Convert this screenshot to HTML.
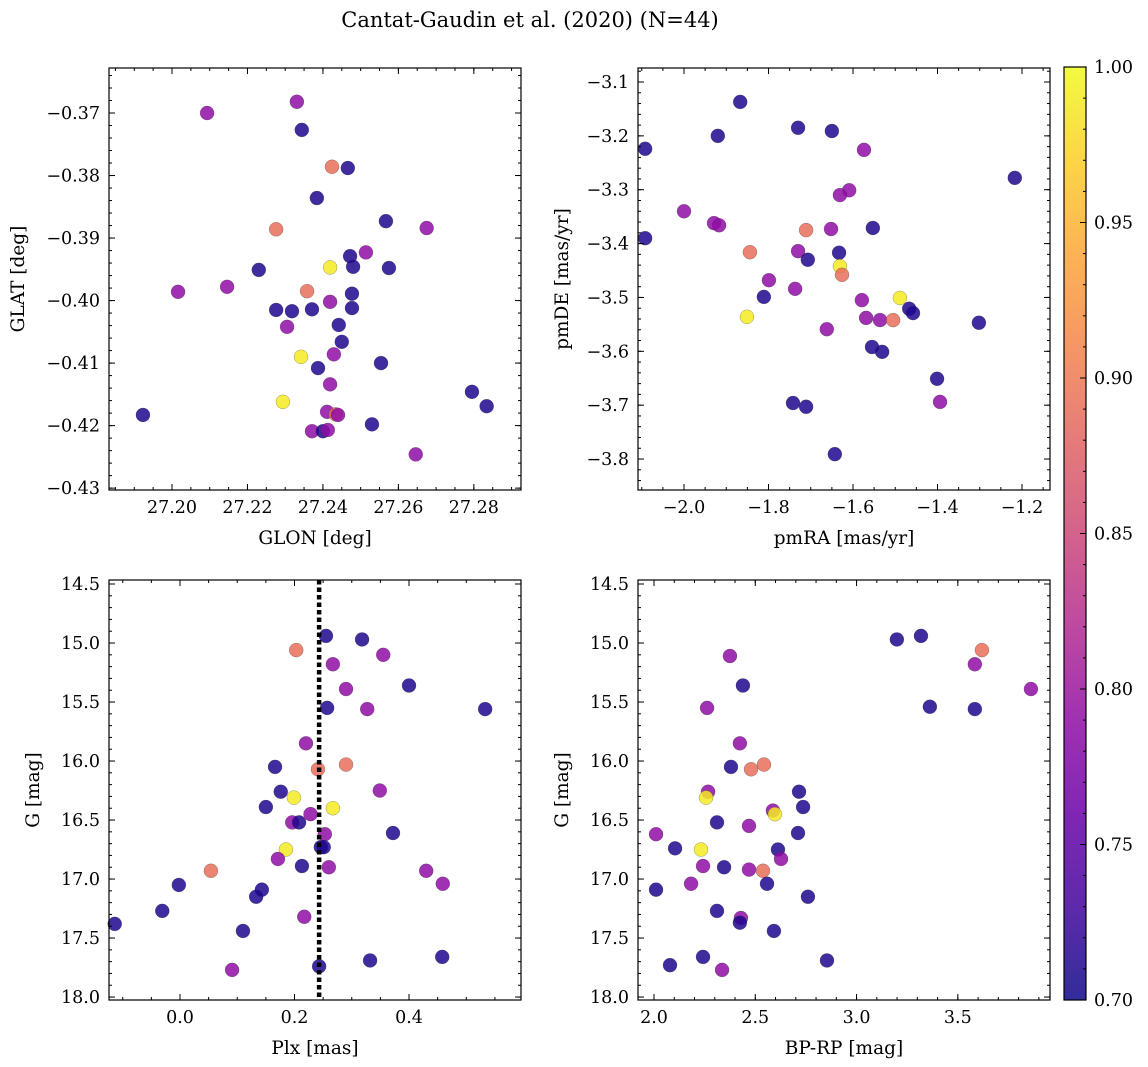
<!DOCTYPE html>
<html><head><meta charset="utf-8"><style>
html,body{margin:0;padding:0;background:#fff;}
svg{display:block;font-family:"DejaVu Serif","Liberation Serif",serif;}
</style></head><body>
<svg id="chart" width="1148" height="1067" viewBox="0 0 1148 1067" xmlns="http://www.w3.org/2000/svg">
<defs>
<linearGradient id="plasma" x1="0" y1="1" x2="0" y2="0">
<stop offset="0" stop-color="#0d0887"/><stop offset="0.1" stop-color="#41049d"/><stop offset="0.2" stop-color="#6a00a8"/><stop offset="0.3" stop-color="#8f0da4"/><stop offset="0.4" stop-color="#b12a90"/><stop offset="0.5" stop-color="#cc4778"/><stop offset="0.6" stop-color="#e16462"/><stop offset="0.7" stop-color="#f2844b"/><stop offset="0.8" stop-color="#fca636"/><stop offset="0.9" stop-color="#fcce25"/><stop offset="1" stop-color="#f0f921"/>
</linearGradient>
</defs>
<text x="530" y="27" text-anchor="middle" font-size="21">Cantat-Gaudin et al. (2020) (N=44)</text>
</svg>
<script>
// Panel 1: GLON vs GLAT
const glon = [27.2093,27.2331,27.2344,27.2424,27.2466,27.2384,27.2276,27.2567,27.2675,27.2514,27.2472,27.2480,27.2419,27.2230,27.2575,27.2016,27.2146,27.2358,27.2477,27.2419,27.2276,27.2318,27.2371,27.2477,27.2305,27.2442,27.2450,27.2342,27.2429,27.2387,27.2554,27.2419,27.2795,27.2834,27.2294,27.1923,27.2411,27.2434,27.2440,27.2530,27.2371,27.2400,27.2413,27.2646];
const glat = [-0.3700,-0.3682,-0.3727,-0.3786,-0.3788,-0.3836,-0.3886,-0.3873,-0.3884,-0.3923,-0.3929,-0.3946,-0.3947,-0.3951,-0.3948,-0.3986,-0.3978,-0.3985,-0.3989,-0.4002,-0.4015,-0.4017,-0.4014,-0.4012,-0.4042,-0.4039,-0.4066,-0.4090,-0.4086,-0.4108,-0.4100,-0.4134,-0.4146,-0.4169,-0.4162,-0.4183,-0.4178,-0.4182,-0.4183,-0.4198,-0.4209,-0.4209,-0.4207,-0.4246];
const prob1 = [0.79,0.79,0.71,0.89,0.71,0.71,0.89,0.71,0.79,0.79,0.71,0.71,0.99,0.71,0.71,0.79,0.79,0.89,0.71,0.79,0.71,0.71,0.71,0.71,0.79,0.71,0.71,0.99,0.79,0.71,0.71,0.79,0.71,0.71,0.99,0.71,0.79,0.89,0.79,0.71,0.79,0.71,0.79,0.79];
// Panel 2: pmRA vs pmDE
const pmra = [-1.867,-2.092,-1.920,-1.730,-1.650,-1.574,-1.217,-1.609,-1.631,-2.000,-1.929,-1.917,-2.092,-1.652,-1.553,-1.711,-1.844,-1.730,-1.633,-1.707,-1.631,-1.626,-1.799,-1.737,-1.811,-1.489,-1.579,-1.851,-1.569,-1.536,-1.505,-1.467,-1.458,-1.302,-1.662,-1.555,-1.531,-1.401,-1.394,-1.742,-1.711,-1.643];
const pmde = [-3.137,-3.224,-3.200,-3.185,-3.191,-3.226,-3.278,-3.301,-3.310,-3.340,-3.362,-3.366,-3.390,-3.373,-3.371,-3.375,-3.416,-3.414,-3.417,-3.430,-3.442,-3.458,-3.468,-3.484,-3.499,-3.501,-3.505,-3.536,-3.538,-3.542,-3.542,-3.521,-3.529,-3.547,-3.559,-3.592,-3.601,-3.651,-3.694,-3.696,-3.703,-3.791];
const prob2 = [0.71,0.71,0.71,0.71,0.71,0.79,0.71,0.79,0.79,0.79,0.79,0.79,0.71,0.79,0.71,0.89,0.89,0.79,0.71,0.71,0.99,0.89,0.79,0.79,0.71,0.99,0.79,0.99,0.79,0.79,0.89,0.71,0.71,0.71,0.79,0.71,0.71,0.71,0.79,0.71,0.71,0.71];
// Panel 3: Plx vs G
const plx = [0.255,0.318,0.203,0.355,0.267,0.400,0.290,0.533,0.257,0.327,0.220,0.290,0.241,0.166,0.349,0.176,0.199,0.150,0.267,0.228,0.196,0.208,0.253,0.372,0.185,0.246,0.251,0.171,0.213,0.260,0.054,0.430,0.459,-0.002,0.143,0.133,-0.031,0.217,-0.114,0.110,0.332,0.458,0.243,0.091];
const gmag3 = [14.94,14.97,15.06,15.10,15.18,15.36,15.39,15.56,15.55,15.56,15.85,16.03,16.07,16.05,16.25,16.26,16.31,16.39,16.40,16.45,16.52,16.52,16.62,16.61,16.75,16.73,16.73,16.83,16.89,16.90,16.93,16.93,17.04,17.05,17.09,17.15,17.27,17.32,17.38,17.44,17.69,17.66,17.74,17.77];
const prob3 = [0.71,0.71,0.89,0.79,0.79,0.71,0.79,0.71,0.71,0.79,0.79,0.89,0.89,0.71,0.79,0.71,0.99,0.71,0.99,0.79,0.79,0.71,0.79,0.71,0.99,0.71,0.71,0.79,0.71,0.79,0.89,0.79,0.79,0.71,0.71,0.71,0.71,0.79,0.71,0.71,0.71,0.71,0.71,0.79];
const plxLine = [0.243];
// Panel 4: BP-RP vs G
const bprp = [3.199,3.318,3.619,2.375,3.584,2.439,3.861,3.362,3.584,2.262,2.424,2.543,2.479,2.380,2.716,2.267,2.257,2.736,2.587,2.597,2.311,2.469,2.711,2.010,2.232,2.104,2.612,2.627,2.242,2.346,2.469,2.538,2.183,2.558,2.010,2.760,2.311,2.429,2.424,2.592,2.854,2.242,2.079,2.336];
const gmag4 = [14.97,14.94,15.06,15.11,15.18,15.36,15.39,15.54,15.56,15.55,15.85,16.03,16.07,16.05,16.26,16.26,16.31,16.39,16.42,16.45,16.52,16.55,16.61,16.62,16.75,16.74,16.75,16.83,16.89,16.90,16.92,16.93,17.04,17.04,17.09,17.15,17.27,17.33,17.37,17.44,17.69,17.66,17.73,17.77];
const prob4 = [0.71,0.71,0.89,0.79,0.79,0.71,0.79,0.71,0.71,0.79,0.79,0.89,0.89,0.71,0.71,0.79,0.99,0.71,0.79,0.99,0.71,0.79,0.71,0.79,0.99,0.71,0.71,0.79,0.79,0.71,0.79,0.89,0.79,0.71,0.71,0.71,0.71,0.79,0.71,0.71,0.71,0.71,0.71,0.79];
const cbarTicks = [0.70,0.75,0.80,0.85,0.90,0.95,1.00];

const NS="http://www.w3.org/2000/svg";
const svg=document.getElementById('chart');
function mk(tag,attrs,parent){const e=document.createElementNS(NS,tag);for(const k in attrs)e.setAttribute(k,attrs[k]);(parent||svg).appendChild(e);return e;}
const stops=['#0d0887','#41049d','#6a00a8','#8f0da4','#b12a90','#cc4778','#e16462','#f2844b','#fca636','#fcce25','#f0f921'];
function hex(h){return [1,3,5].map(i=>parseInt(h.substr(i,2),16));}
function plasma(v){let t=(v-0.7)/0.3;t=Math.max(0,Math.min(1,t));const p=t*10;const i=Math.min(9,Math.floor(p));const f=p-i;const a=hex(stops[i]),b=hex(stops[i+1]);return 'rgb('+a.map((c,k)=>Math.round(c+(b[k]-c)*f)).join(',')+')';}
function ticks(lo,hi,step){const r=[];const s=Math.ceil(lo/step-1e-9);for(let k=s;k*step<=hi+1e-9;k++)r.push(+(k*step).toFixed(6));return r;}

function panel(o){
  const g=mk('g',{});
  
  
  const X=v=>o.x0+(v-o.xmin)/(o.xmax-o.xmin)*(o.x1-o.x0);
  const Y=o.invert? v=>o.y0+(v-o.ymin)/(o.ymax-o.ymin)*(o.y1-o.y0) : v=>o.y1-(v-o.ymin)/(o.ymax-o.ymin)*(o.y1-o.y0);
  const xs=o.xs,ys=o.ys,ps=o.ps;
  for(let i=0;i<xs.length;i++){
    const c=mk('circle',{cx:X(xs[i]),cy:Y(ys[i]),r:7,fill:plasma(ps[i]),'fill-opacity':0.85,stroke:'#333','stroke-width':0.4,'stroke-opacity':0.6},g);
    
    
  }
  if(o.vline!==undefined){
    const l=mk('line',{x1:X(o.vline),x2:X(o.vline),y1:o.y0,y2:o.y1,stroke:'#000','stroke-width':4.5,'stroke-dasharray':'4.5 3'},g);
    
    
  }
  const fr=mk('rect',{x:o.x0,y:o.y0,width:o.x1-o.x0,height:o.y1-o.y0,fill:'none',stroke:'#000','stroke-width':1.2},g);
  
  
  const xa=mk('g',{},g);
  
  
  ticks(o.xmin,o.xmax,o.xminor).forEach(v=>{const x=X(v);mk('line',{x1:x,x2:x,y1:o.y1,y2:o.y1-3,stroke:'#000'},xa);mk('line',{x1:x,x2:x,y1:o.y0,y2:o.y0+3,stroke:'#000'},xa);});
  ticks(o.xmin,o.xmax,o.xmajor).forEach(v=>{const x=X(v);mk('line',{x1:x,x2:x,y1:o.y1,y2:o.y1-6,stroke:'#000'},xa);mk('line',{x1:x,x2:x,y1:o.y0,y2:o.y0+6,stroke:'#000'},xa);
    const t=mk('text',{x:x,y:o.y1+23,'text-anchor':'middle','font-size':17.5},xa);t.textContent=v.toFixed(o.xdec).replace('-','\u2212');
    
    });
  const ya=mk('g',{},g);
  
  
  ticks(o.ymin,o.ymax,o.yminor).forEach(v=>{const y=Y(v);mk('line',{x1:o.x0,x2:o.x0+3,y1:y,y2:y,stroke:'#000'},ya);mk('line',{x1:o.x1,x2:o.x1-3,y1:y,y2:y,stroke:'#000'},ya);});
  ticks(o.ymin,o.ymax,o.ymajor).forEach(v=>{const y=Y(v);mk('line',{x1:o.x0,x2:o.x0+6,y1:y,y2:y,stroke:'#000'},ya);mk('line',{x1:o.x1,x2:o.x1-6,y1:y,y2:y,stroke:'#000'},ya);
    const t=mk('text',{x:o.x0-9,y:y+6,'text-anchor':'end','font-size':17.5},ya);t.textContent=v.toFixed(o.ydec).replace('-','\u2212');
    
    });
  const xt=mk('text',{x:(o.x0+o.x1)/2,y:o.y1+54,'text-anchor':'middle','font-size':18.5},g);xt.textContent=o.xlabel;
  
  
  const yx=o.x0-o.ylabOff, yy=(o.y0+o.y1)/2;
  const yt=mk('text',{x:yx,y:yy,'text-anchor':'middle','font-size':18.5,transform:'rotate(-90 '+yx+' '+yy+')'},g);yt.textContent=o.ylabel;
  
  
}

panel({name:'panel-glon-glat',x0:109,x1:521,y0:68,y1:490,xmin:27.1833,xmax:27.2925,ymin:-0.4303,ymax:-0.3628,xmajor:0.02,xminor:0.005,ymajor:0.01,yminor:0.002,xdec:2,ydec:2,xs:glon,ys:glat,ps:prob1,xlabel:'GLON [deg]',ylabel:'GLAT [deg]',ylabOff:85});
panel({name:'panel-pmra-pmde',x0:638,x1:1050,y0:68,y1:490,xmin:-2.1089,xmax:-1.1337,ymin:-3.8575,ymax:-3.074,xmajor:0.2,xminor:0.05,ymajor:0.1,yminor:0.02,xdec:1,ydec:1,xs:pmra,ys:pmde,ps:prob2,xlabel:'pmRA [mas/yr]',ylabel:'pmDE [mas/yr]',ylabOff:70});
panel({name:'panel-plx-g',x0:109,x1:521,y0:580,y1:1000,xmin:-0.124,xmax:0.5956,ymin:14.466,ymax:18.025,invert:true,xmajor:0.2,xminor:0.05,ymajor:0.5,yminor:0.1,xdec:1,ydec:1,xs:plx,ys:gmag3,ps:prob3,vline:plxLine[0],xlabel:'Plx [mas]',ylabel:'G [mag]',ylabOff:70});
panel({name:'panel-bprp-g',x0:638,x1:1050,y0:580,y1:1000,xmin:1.921,xmax:3.955,ymin:14.466,ymax:18.025,invert:true,xmajor:0.5,xminor:0.1,ymajor:0.5,yminor:0.1,xdec:1,ydec:1,xs:bprp,ys:gmag4,ps:prob4,xlabel:'BP-RP [mag]',ylabel:'G [mag]',ylabOff:70});

// colorbar
const cb=mk('g',{});


const cx0=1064,cx1=1086,cy0=67,cy1=1000;
mk('rect',{x:cx0,y:cy0,width:cx1-cx0,height:cy1-cy0,fill:'url(#plasma)','fill-opacity':0.85},cb);
mk('rect',{x:cx0,y:cy0,width:cx1-cx0,height:cy1-cy0,fill:'none',stroke:'#000','stroke-width':1.2},cb);
const CY=v=>cy1-(v-0.7)/0.3*(cy1-cy0);
ticks(0.7,1.0,0.01).forEach(v=>{mk('line',{x1:cx1,x2:cx1-3,y1:CY(v),y2:CY(v),stroke:'#000'},cb);});
cbarTicks.forEach(v=>{const y=CY(v);mk('line',{x1:cx1,x2:cx1-6,y1:y,y2:y,stroke:'#000'},cb);
  const t=mk('text',{x:cx1+8,y:y+6,'font-size':17.5},cb);t.textContent=v.toFixed(2);
  
  });
</script>
</body></html>
